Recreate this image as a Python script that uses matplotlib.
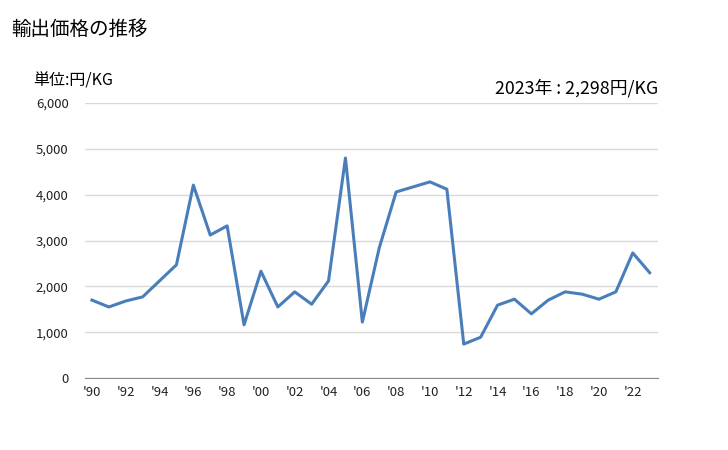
import matplotlib
matplotlib.use('Agg')
import matplotlib.pyplot as plt
from matplotlib.ticker import FuncFormatter

plt.rcParams['font.family'] = ['Noto Sans CJK JP', 'DejaVu Sans']

# data (円/KG)
years = list(range(1990, 2024))
prices = [1700, 1550, 1680, 1770, 2120, 2470, 4210, 3120, 3320, 1160,
          2330, 1550, 1880, 1610, 2120, 4800, 1220, 2840, 4060, 4170,
          4280, 4120, 740, 890, 1590, 1720, 1400, 1700, 1880, 1830,
          1720, 1880, 2730, 2298]
tick_years = list(range(1990, 2024, 2))
tick_labels = ["'%02d" % (y % 100) for y in tick_years]

fig = plt.figure(figsize=(7.28, 4.5), dpi=100)
ax = fig.add_axes([0.117, 0.16, 0.787, 0.611])

ax.plot(years, prices, color='#4a7ebb', linewidth=2.2)

ax.set_xlim(1989.6, 2023.5)
ax.set_ylim(0, 6000)
ax.set_yticks(range(0, 6001, 1000))
ax.yaxis.set_major_formatter(FuncFormatter(lambda v, p: f'{int(v):,}'))
ax.set_xticks(tick_years)
ax.set_xticklabels(tick_labels)
ax.grid(axis='y', color='#d9d9d9', linewidth=1)
ax.set_axisbelow(True)
for s in ['top', 'right', 'left']:
    ax.spines[s].set_visible(False)
ax.spines['bottom'].set_color('#888888')
ax.tick_params(length=0, labelsize=9.5, colors='#222222')
ax.tick_params(axis='y', pad=12)
ax.tick_params(axis='x', pad=6)

fig.text(0.016, 0.935, '輸出価格の推移', fontsize=14, va='center')
fig.text(0.045, 0.82, '単位:円/KG', fontsize=11.5, va='center')
fig.text(0.904, 0.805, '2023年 : 2,298円/KG', fontsize=12.8, va='center', ha='right')

fig.savefig('out.png', dpi=100)
